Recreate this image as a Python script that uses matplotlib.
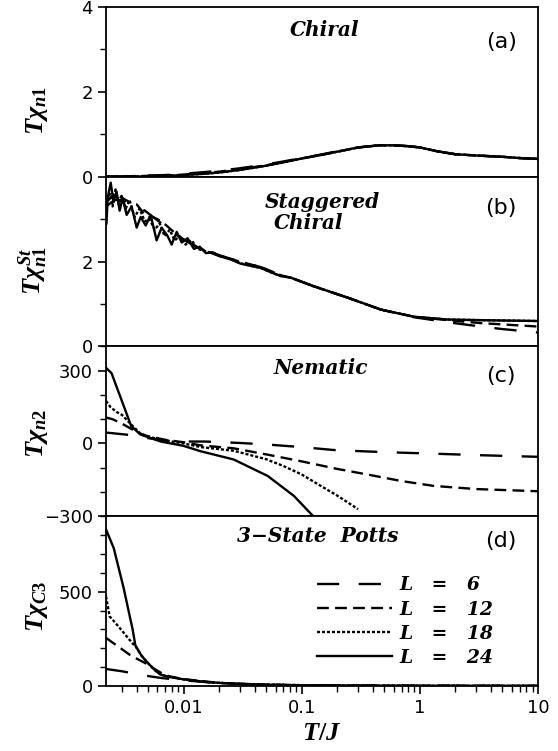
import matplotlib
matplotlib.use("Agg")
import matplotlib.pyplot as plt
from matplotlib.ticker import FixedLocator, FixedFormatter, LogLocator, NullFormatter

plt.rcParams['font.family'] = 'DejaVu Sans'
plt.rcParams['mathtext.fontset'] = 'custom'
plt.rcParams['mathtext.it'] = 'Liberation Serif:italic:bold'
plt.rcParams['mathtext.rm'] = 'Liberation Serif:bold'
plt.rcParams['lines.scale_dashes'] = False

sizes = [6, 12, 18, 24]

# (a) chiral susceptibility
Ta = [0.0022, 0.003, 0.005, 0.007, 0.01, 0.015, 0.02, 0.03, 0.05, 0.07, 0.1, 0.15,
      0.2, 0.3, 0.45, 0.6, 0.8, 1.0, 1.4, 2.0, 3.0, 5.0, 7.0, 10.0]
a24 = [0.0, 0.0, 0.01, 0.02, 0.04, 0.07, 0.1, 0.16, 0.26, 0.34, 0.43, 0.52,
       0.59, 0.69, 0.74, 0.74, 0.72, 0.69, 0.6, 0.53, 0.5, 0.47, 0.44, 0.42]
a18 = [0.0, 0.0, 0.01, 0.02, 0.04, 0.07, 0.1, 0.16, 0.26, 0.34, 0.43, 0.52,
       0.59, 0.69, 0.74, 0.74, 0.72, 0.69, 0.6, 0.53, 0.5, 0.47, 0.44, 0.42]
a12 = [0.0, 0.01, 0.02, 0.03, 0.05, 0.09, 0.12, 0.18, 0.27, 0.35, 0.43, 0.52,
       0.59, 0.69, 0.74, 0.74, 0.72, 0.69, 0.6, 0.53, 0.5, 0.47, 0.44, 0.42]
a6 = [0.0, 0.01, 0.03, 0.04, 0.07, 0.11, 0.14, 0.2, 0.29, 0.36, 0.44, 0.53,
      0.6, 0.69, 0.74, 0.74, 0.72, 0.69, 0.6, 0.53, 0.5, 0.47, 0.44, 0.42]

# (b) staggered chiral susceptibility
Tb24 = [0.00222, 0.00227, 0.00241, 0.00255, 0.0027, 0.00287, 0.00304, 0.00329, 0.00362,
        0.004, 0.00432, 0.00477, 0.00525, 0.0059, 0.00651, 0.00732, 0.00791, 0.00873,
        0.00962, 0.0108, 0.0122, 0.0137, 0.0154, 0.0176, 0.0206, 0.025, 0.0304, 0.037,
        0.045, 0.0546, 0.0664, 0.081, 0.126, 0.245, 0.467, 0.89, 1.73, 3.3, 10.0]
b24 = [2.9, 3.5, 3.86, 3.4, 3.65, 3.2, 3.5, 3.1, 3.3,
       2.8, 3.05, 2.85, 3.1, 2.5, 2.8, 2.6, 2.4, 2.7,
       2.45, 2.55, 2.3, 2.35, 2.2, 2.22, 2.12, 2.05, 1.95, 1.9,
       1.85, 1.75, 1.66, 1.62, 1.42, 1.15, 0.87, 0.7, 0.635, 0.62, 0.6]
Tb18 = [0.00222, 0.00236, 0.0025, 0.00265, 0.00281, 0.00298, 0.00323, 0.00348, 0.00384,
        0.00424, 0.00467, 0.00515, 0.00568, 0.00626, 0.0069, 0.00761, 0.00839, 0.00925,
        0.0104, 0.0117, 0.0131, 0.0151, 0.0176, 0.0214, 0.025, 0.0304, 0.037,
        0.045, 0.0546, 0.0664, 0.081, 0.126, 0.245, 0.467, 0.89, 1.73, 3.3, 10.0]
b18 = [3.2, 3.6, 3.3, 3.7, 3.35, 3.55, 3.25, 3.45, 3.05,
       3.25, 2.95, 3.0, 2.75, 2.9, 2.6, 2.75, 2.5, 2.6,
       2.4, 2.5, 2.3, 2.25, 2.2, 2.12, 2.06, 1.96, 1.9,
       1.85, 1.75, 1.66, 1.62, 1.42, 1.15, 0.87, 0.7, 0.635, 0.62, 0.6]
Tb = [0.0022, 0.0026, 0.003, 0.0035, 0.004, 0.0047, 0.0055, 0.0065, 0.0075, 0.009,
      0.011, 0.014, 0.02, 0.03, 0.045, 0.066, 0.081, 0.126, 0.245, 0.467, 0.89,
      1.73, 3.3, 5.0, 10.0]
b12 = [3.4, 3.6, 3.5, 3.4, 3.35, 3.1, 3.05, 2.95, 2.8, 2.6,
       2.45, 2.3, 2.13, 2.0, 1.87, 1.68, 1.62, 1.42, 1.15, 0.87, 0.7,
       0.62, 0.55, 0.52, 0.47]
b6 = [3.3, 3.45, 3.45, 3.35, 3.3, 3.2, 3.05, 2.9, 2.75, 2.6,
      2.45, 2.3, 2.15, 2.0, 1.87, 1.68, 1.62, 1.42, 1.15, 0.87, 0.69,
      0.57, 0.47, 0.41, 0.33]

# (c) nematic susceptibility
Tc6 = [0.0022, 0.0035, 0.005, 0.007, 0.01, 0.015, 0.02, 0.03, 0.05, 0.1, 0.187,
       0.36, 0.7, 1.31, 3.0, 10.0]
c6 = [45, 35, 22, 12, 8, 8, 6, 2, -4, -15, -27, -33, -38, -42, -48, -55]
Tc12 = [0.0022, 0.0025, 0.003, 0.0036, 0.0043, 0.005, 0.007, 0.01, 0.014, 0.0265,
        0.05, 0.098, 0.2, 0.36, 0.7, 1.31, 3.0, 10.0]
c12 = [107, 100, 82, 60, 40, 30, 15, 5, -8, -20, -45, -73, -105, -128, -155, -175, -188, -197]
Tc18 = [0.0022, 0.0024, 0.0027, 0.003, 0.0036, 0.0043, 0.005, 0.007, 0.01, 0.014,
        0.0265, 0.05, 0.07, 0.1, 0.137, 0.2, 0.3]
c18 = [175, 150, 130, 118, 78, 41, 28, 12, 0, -15, -30, -65, -93, -128, -168, -215, -271]
Tc24 = [0.0022, 0.00245, 0.0036, 0.0043, 0.0064, 0.01, 0.0139, 0.0265, 0.0515, 0.0857, 0.128]
c24 = [312, 290, 71, 37, 8, -10, -32, -66, -134, -216, -305]

# (d) 3-state Potts susceptibility
Td6 = [0.0022, 0.003, 0.0047, 0.0065, 0.01, 0.02, 0.05, 0.1, 1.0, 10.0]
d6 = [90, 78, 55, 42, 30, 15, 6, 3, 1, 0.5]
Td12 = [0.0022, 0.0025, 0.003, 0.0035, 0.004, 0.0047, 0.0055, 0.0065, 0.0075, 0.01,
        0.02, 0.03, 0.05, 0.1, 0.3, 1.0, 10.0]
d12 = [255, 230, 195, 165, 145, 122, 95, 68, 52, 36, 16, 11, 7, 4, 2, 1, 0.5]
Td18 = [0.0022, 0.00236, 0.0028, 0.0033, 0.0037, 0.0039, 0.0044, 0.005, 0.0058, 0.0064,
        0.0075, 0.01, 0.015, 0.0205, 0.03, 0.05, 0.1, 0.3, 1.0, 10.0]
d18 = [475, 369, 316, 262, 225, 212, 160, 120, 80, 60, 48, 35, 22, 16, 11, 7, 4, 2, 1, 0.5]
Td24 = [0.0022, 0.00256, 0.0031, 0.0037, 0.0039, 0.0044, 0.005, 0.0058, 0.0064,
        0.0075, 0.01, 0.015, 0.0205, 0.03, 0.05, 0.1, 0.3, 1.0, 10.0]
d24 = [830, 730, 520, 298, 215, 160, 120, 80, 60, 48, 35, 22, 16, 11, 7, 4, 2, 1, 0.5]

styles = {6: (0, (16, 14)), 12: (0, (8.5, 4.5)), 18: (0, (2.2, 1.4)), 24: '-'}

panels = [
    dict(series=[(Ta, a6), (Ta, a12), (Ta, a18), (Ta, a24)], ylim=(0, 4),
         major=[0, 2, 4], minor=[1, 3], ylabel=r'$T\chi_{n1}$', lab_y=0.39,
         titles=[('Chiral', 0.505, 0.865)], tag='(a)', tag_y=0.794),
    dict(series=[(Tb, b6), (Tb, b12), (Tb18, b18), (Tb24, b24)], ylim=(0, 4),
         major=[0, 2], minor=[1, 3], ylabel=r'$T\chi^{St}_{n1}$', lab_y=0.45,
         titles=[('Staggered', 0.5, 0.853), ('Chiral', 0.468, 0.729)], tag='(b)', tag_y=0.818),
    dict(series=[(Tc6, c6), (Tc12, c12), (Tc18, c18), (Tc24, c24)], ylim=(-300, 400),
         major=[-300, 0, 300], minor=[-200, -100, 100, 200, 400], ylabel=r'$T\chi_{n2}$', lab_y=0.49,
         titles=[('Nematic', 0.498, 0.876)], tag='(c)', tag_y=0.824),
    dict(series=[(Td6, d6), (Td12, d12), (Td18, d18), (Td24, d24)], ylim=(0, 900),
         major=[0, 500], minor=[100, 200, 300, 400, 600, 700, 800, 900], ylabel=r'$T\chi_{C3}$', lab_y=0.47,
         titles=[('3\u2212State  Potts', 0.49, 0.882)], tag='(d)', tag_y=0.852),
]

fig = plt.figure(figsize=(5.58, 7.51), dpi=100)
gs = fig.add_gridspec(4, 1, left=0.19, right=0.964, top=0.9907, bottom=0.0866, hspace=0)

title_font = dict(family='DejaVu Serif', style='italic', weight='bold', fontsize=14.5)

for i, p in enumerate(panels):
    ax = fig.add_subplot(gs[i])
    lines = []
    for L, (T, v) in zip(sizes, p['series']):
        ln, = ax.plot(T, v, color='black', lw=1.7, linestyle=styles[L],
                      label=f'L   =   {L}')
        lines.append(ln)
    ax.set_xscale('log')
    ax.set_xlim(0.0022, 10)
    ax.set_ylim(*p['ylim'])
    ax.yaxis.set_major_locator(FixedLocator(p['major']))
    ax.yaxis.set_minor_locator(FixedLocator(p['minor']))
    ax.tick_params(axis='y', which='major', direction='out', length=6, width=1.2, labelsize=13)
    ax.tick_params(axis='y', which='minor', direction='out', length=4, width=1.0)
    for s in ax.spines.values():
        s.set_linewidth(1.3)
    ax.set_ylabel(p['ylabel'], fontsize=19)
    ax.yaxis.set_label_coords(-0.13, p['lab_y'])
    for txt, tx, ty in p['titles']:
        ax.text(tx, ty, txt, transform=ax.transAxes, ha='center', va='center', **title_font)
    ax.text(0.915, p['tag_y'], p['tag'], transform=ax.transAxes, ha='center', va='center',
            fontsize=16, family='DejaVu Sans')
    if i < 3:
        ax.tick_params(axis='x', which='both', bottom=False, labelbottom=False)
    else:
        ax.xaxis.set_major_locator(FixedLocator([0.01, 0.1, 1, 10]))
        ax.xaxis.set_major_formatter(FixedFormatter(['0.01', '0.1', '1', '10']))
        ax.xaxis.set_minor_locator(LogLocator(base=10, subs=range(2, 10), numticks=20))
        ax.xaxis.set_minor_formatter(NullFormatter())
        ax.tick_params(axis='x', which='major', direction='out', length=6, width=1.2, labelsize=13)
        ax.tick_params(axis='x', which='minor', direction='out', length=4, width=1.0)
        ax.set_xlabel(r'$T/J$', fontsize=19, labelpad=2)
        ax.legend(handles=lines, loc='upper left', bbox_to_anchor=(0.47, 0.69),
                  frameon=False, handlelength=4.0, handletextpad=0.4,
                  labelspacing=0.33, borderaxespad=0,
                  prop=dict(family='DejaVu Serif', style='italic', weight='bold', size=13.5))

fig.savefig('out.png', dpi=100)
